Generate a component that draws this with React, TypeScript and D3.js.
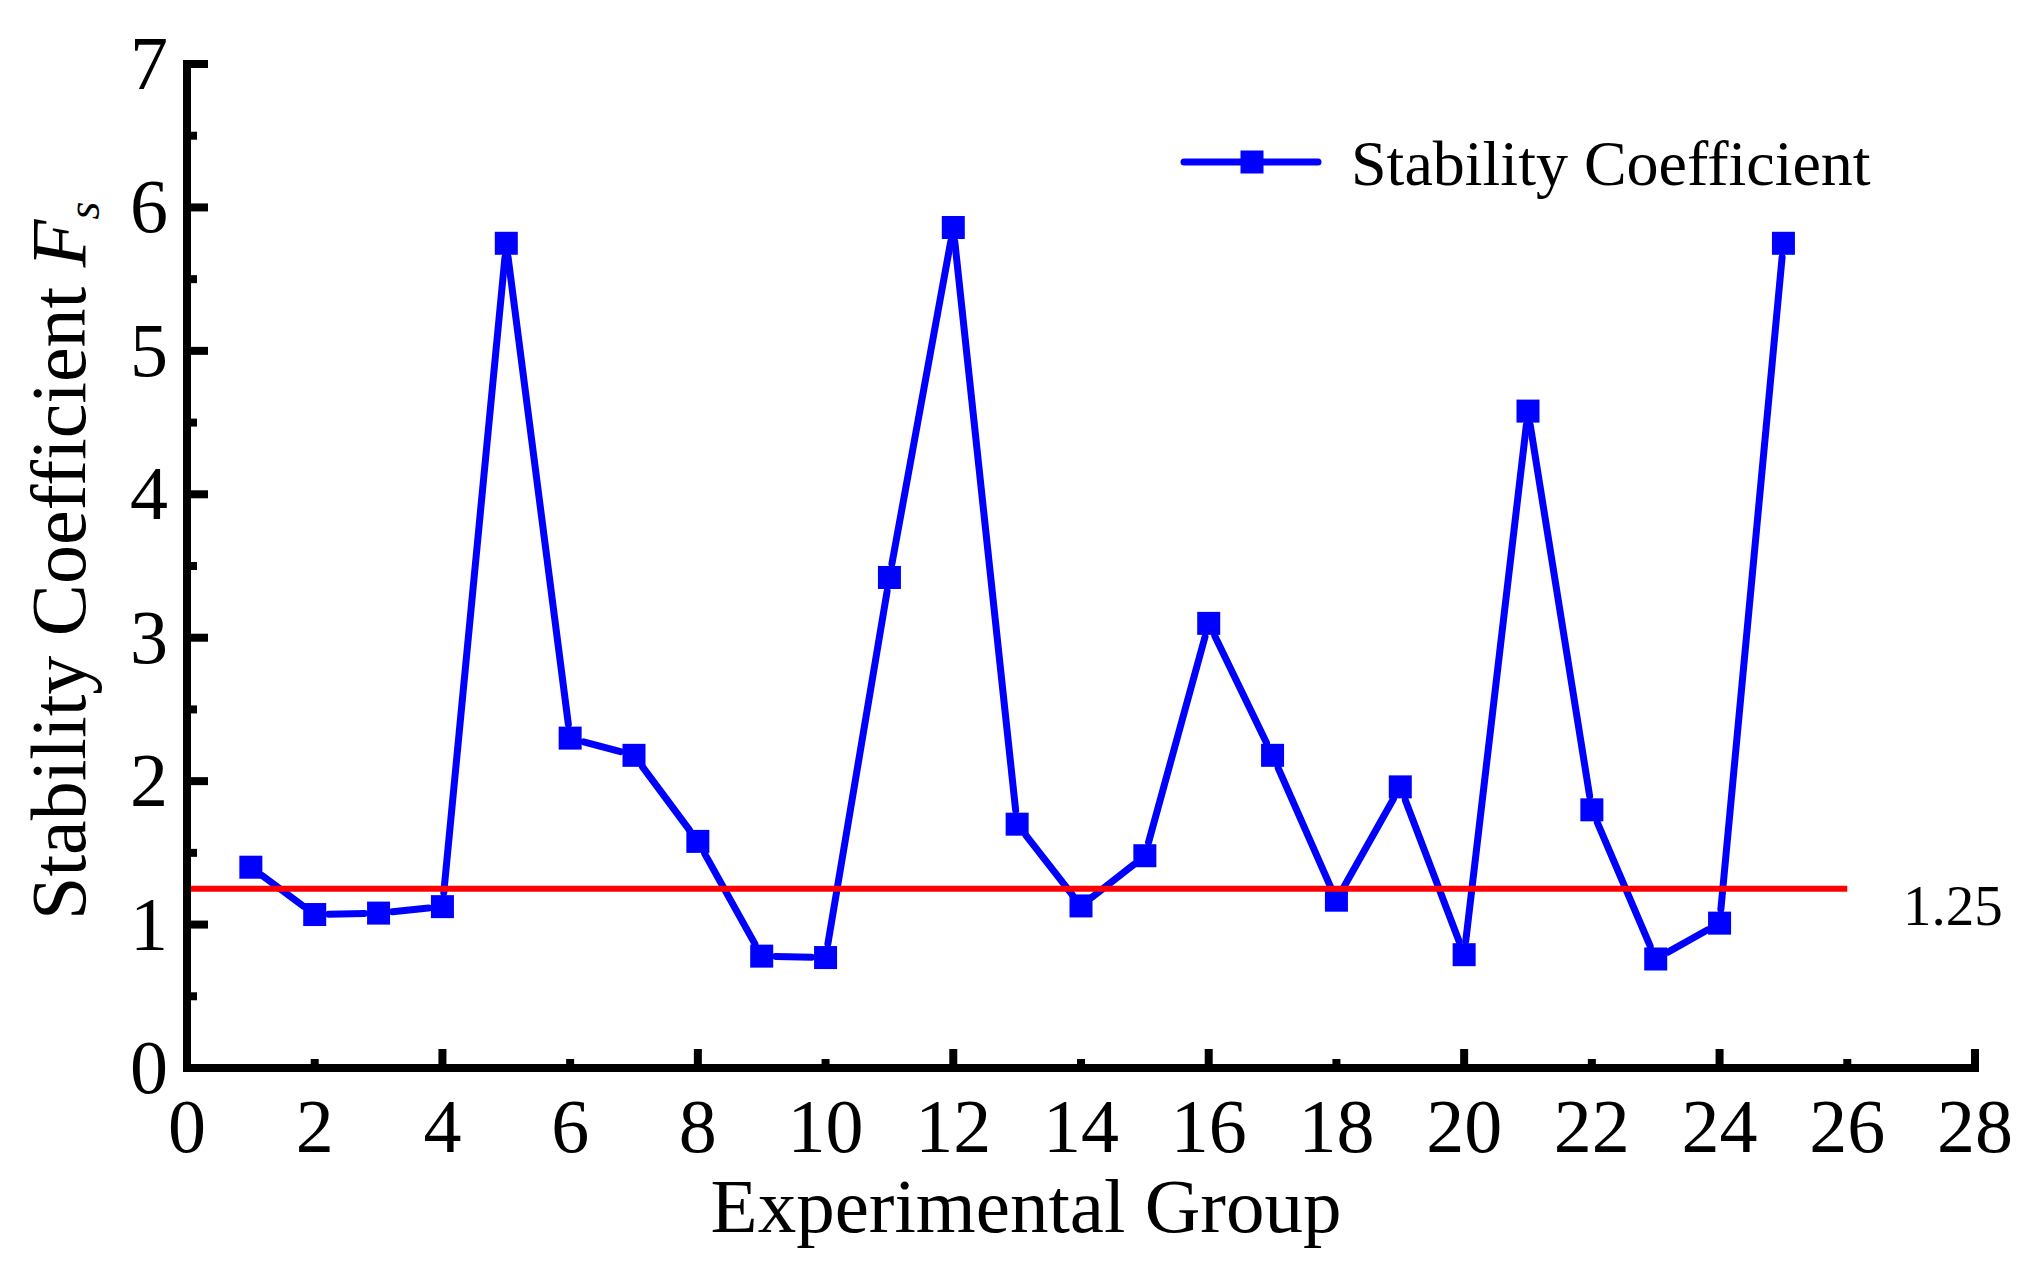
import React from "react";
import * as d3 from "d3";

const groups: number[] = Array.from({ length: 25 }, (_, i) => i + 1);
const stability: number[] = [
  1.40, 1.07, 1.08, 1.125, 5.75, 2.30, 2.18, 1.58, 0.78, 0.77,
  3.42, 5.86, 1.70, 1.13, 1.48, 3.10, 2.18, 1.17, 1.96, 0.79,
  4.58, 1.80, 0.76, 1.01, 5.75,
];
const xTickLabels: number[] = [0, 2, 4, 6, 8, 10, 12, 14, 16, 18, 20, 22, 24, 26, 28];
const xMajorTicks: number[] = [0, 4, 8, 12, 16, 20, 24, 28];
const yTickLabels: number[] = [0, 1, 2, 3, 4, 5, 6, 7];
const yMinorTicks: number[] = [0.5, 1.5, 2.5, 3.5, 4.5, 5.5, 6.5];
const threshold = 1.25;
const thresholdExtent: [number, number] = [0, 26];
const seriesName = "Stability Coefficient";

const W = 2040;
const H = 1266;
const FONT = "'Liberation Serif', 'Times New Roman', serif";

export default function App() {
  const x = d3.scaleLinear().domain([0, 28]).range([187, 1975]);
  const y = d3.scaleLinear().domain([0, 7]).range([1068, 64]);

  const pts = groups.map((g, i) => [x(g), y(stability[i])] as [number, number]);
  const gap = 14;
  const segs: string[] = [];
  for (let i = 0; i < pts.length - 1; i++) {
    const [x1, y1] = pts[i];
    const [x2, y2] = pts[i + 1];
    const dx = x2 - x1;
    const dy = y2 - y1;
    const len = Math.hypot(dx, dy);
    if (len <= 2 * gap) continue;
    const ux = dx / len;
    const uy = dy / len;
    const p = d3.path();
    p.moveTo(x1 + ux * gap, y1 + uy * gap);
    p.lineTo(x2 - ux * gap, y2 - uy * gap);
    segs.push(p.toString());
  }

  const blue = "#0000FF";
  const red = "#FF0000";
  const ms = 23;
  const axisW = 8;
  const x0 = x(0);
  const y0 = y(0);

  return (
    <svg
      width={W}
      height={H}
      style={{ position: "absolute", left: 0, top: 0, background: "#fff" }}
      fontFamily={FONT}
    >
      <rect x={0} y={0} width={W} height={H} fill="#fff" />
      {/* series line segments */}
      {segs.map((d, i) => (
        <path key={i} d={d} stroke={blue} strokeWidth={7} strokeLinecap="round" fill="none" />
      ))}
      {/* markers */}
      {pts.map(([px, py], i) => (
        <rect key={i} x={px - ms / 2} y={py - ms / 2} width={ms} height={ms} fill={blue} />
      ))}
      {/* threshold line */}
      <line
        x1={x(thresholdExtent[0])}
        x2={x(thresholdExtent[1])}
        y1={y(threshold)}
        y2={y(threshold)}
        stroke={red}
        strokeWidth={6}
      />
      <text x={1903} y={y(threshold) + 36} fontSize={57} fill="#000">
        {threshold.toFixed(2)}
      </text>

      {/* axes */}
      <line x1={x0} x2={x0} y1={y(7) - 4} y2={y0 + 4} stroke="#000" strokeWidth={axisW} />
      <line x1={x0 - 4} x2={x(28) + 4} y1={y0} y2={y0} stroke="#000" strokeWidth={axisW} />
      {yTickLabels.map((v) => (
        <g key={"yt" + v}>
          <line x1={x0} x2={x0 + 21} y1={y(v)} y2={y(v)} stroke="#000" strokeWidth={8} />
          <text x={168} y={y(v) + 25} fontSize={76} textAnchor="end" fill="#000">
            {v}
          </text>
        </g>
      ))}
      {yMinorTicks.map((v) => (
        <line key={"ym" + v} x1={x0} x2={x0 + 10} y1={y(v)} y2={y(v)} stroke="#000" strokeWidth={8} />
      ))}
      {xTickLabels.map((v) => {
        const major = xMajorTicks.includes(v);
        return (
          <g key={"xt" + v}>
            {v !== 0 && (
              <line
                x1={x(v)}
                x2={x(v)}
                y1={y0}
                y2={y0 - (major ? 19 : 9)}
                stroke="#000"
                strokeWidth={8}
              />
            )}
            <text x={x(v)} y={1152} fontSize={76} textAnchor="middle" fill="#000">
              {v}
            </text>
          </g>
        );
      })}

      {/* axis titles */}
      <text x={1026} y={1232} fontSize={77} textAnchor="middle" fill="#000">
        Experimental Group
      </text>
      <text transform="translate(85,920) rotate(-90)" fontSize={78} fill="#000">
        <tspan>Stability Coefficient </tspan>
        <tspan fontStyle="italic">F</tspan>
        <tspan fontStyle="italic" fontSize={46} dy={14}>
          s
        </tspan>
      </text>

      {/* legend */}
      <line x1={1184} x2={1318} y1={162} y2={162} stroke={blue} strokeWidth={7} strokeLinecap="round" />
      <rect x={1252 - ms / 2} y={162 - ms / 2} width={ms} height={ms} fill={blue} />
      <text x={1351} y={185} fontSize={64} fill="#000">
        {seriesName}
      </text>
    </svg>
  );
}
